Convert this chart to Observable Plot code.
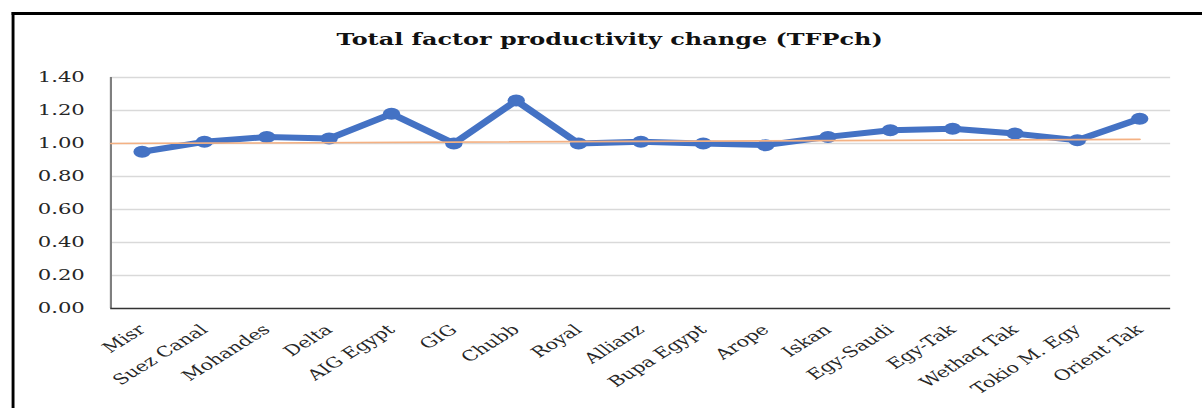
<!DOCTYPE html>
<html><head><meta charset="utf-8">
<script src="https://cdn.jsdelivr.net/npm/d3@7"></script>
<script src="https://cdn.jsdelivr.net/npm/@observablehq/plot@0.6"></script>
<style>
html,body{margin:0;padding:0;background:#fff;overflow:hidden;width:1202px;height:408px;}
#stage{position:relative;width:829px;height:408px;transform:scaleX(1.45);transform-origin:0 0;}
#frame{position:absolute;left:8.2px;top:12px;width:2000px;height:1000px;border-left:2.2px solid #000;border-top:3px solid #000;box-sizing:border-box;}
#title{position:absolute;left:0;width:841px;top:32px;line-height:1;text-align:center;font-family:"DejaVu Serif";font-weight:bold;font-size:16.5px;color:#111;white-space:nowrap;}
#chart{position:absolute;left:0;top:0;}
</style></head><body>
<div id="stage"><div id="frame"></div><div id="title">Total factor productivity change (TFPch)</div><div id="chart"></div></div>
<script>
const companies = ["Misr","Suez Canal","Mohandes","Delta","AIG Egypt","GIG","Chubb","Royal","Allianz","Bupa Egypt","Arope","Iskan","Egy-Saudi","Egy-Tak","Wethaq Tak","Tokio M. Egy","Orient Tak"];
const tfpch = [0.95,1.01,1.04,1.03,1.18,1.00,1.26,1.00,1.01,1.00,0.99,1.04,1.08,1.09,1.06,1.02,1.15];
const yTicks = [0,0.2,0.4,0.6,0.8,1.0,1.2,1.4];
const trendValues = [1.00, 1.025]; // orange reference line: start (axis edge) and end (last category)

const data = companies.map((c, i) => ({i, c, v: tfpch[i]}));
const xDomain = [-0.5, companies.length - 0.5];
const trend = [{x: xDomain[0], v: trendValues[0]}, {x: companies.length - 1, v: trendValues[1]}];

const plot = Plot.plot({
  width: 829, height: 408,
  marginLeft: 76, marginRight: 22, marginTop: 77, marginBottom: 100,
  style: {fontFamily: "DejaVu Serif", fontSize: "14.6px", color: "#262626", background: "transparent", overflow: "visible"},
  x: {type: "linear", domain: xDomain},
  y: {domain: [0, 1.4]},
  marks: [
    Plot.gridY(yTicks.slice(1), {stroke: "#d9d9d9", strokeOpacity: 1, strokeWidth: 1.6}),
    Plot.ruleX([xDomain[0]], {stroke: "#7f7f7f", strokeWidth: 1.5}),
    Plot.ruleY([0], {stroke: "#333", strokeWidth: 1.5}),
    Plot.axisY({ticks: yTicks, tickSize: 0, tickPadding: 18, tickFormat: d => d.toFixed(2), fontSize: 14.6, label: null}),
    Plot.axisX({ticks: d3.range(companies.length), tickSize: 0, tickPadding: 19, tickRotate: -42, tickFormat: i => companies[i], fontSize: 14.4, label: null}),
    Plot.line(data, {x: "i", y: "v", stroke: "#4472C4", strokeWidth: 6, strokeLinejoin: "round"}),
    Plot.dot(data, {x: "i", y: "v", r: 6, fill: "#4472C4"}),
    Plot.line(trend, {x: "x", y: "v", stroke: "#F4B183", strokeWidth: 1.6})
  ]
});
document.getElementById("chart").appendChild(plot);
</script>
</body></html>
